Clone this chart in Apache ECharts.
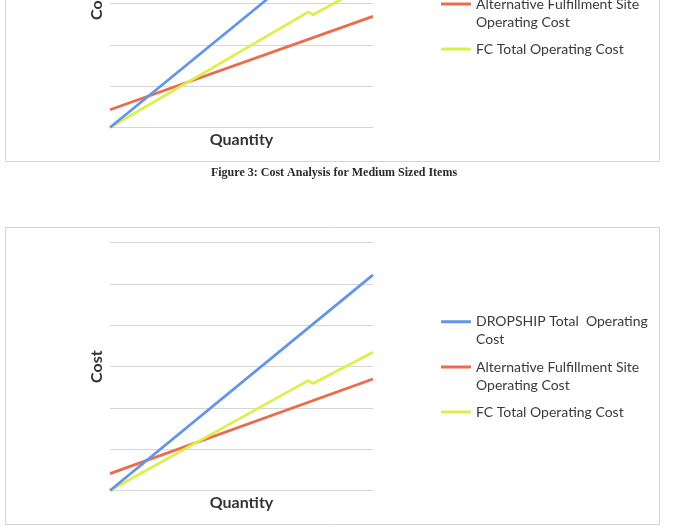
<!DOCTYPE html>
<html>
<head>
<meta charset="utf-8">
<script src="https://cdn.jsdelivr.net/npm/echarts@6/dist/echarts.min.js"></script>
<style>
html,body{margin:0;padding:0;background:#fff;overflow:hidden;width:689px;height:531px;position:relative;}
.ch{position:absolute;left:0;width:689px;height:531px;}
#top{top:-363px;}
#bottom{top:0;}
</style>
</head>
<body>
<div id="top" class="ch"></div>
<div id="bottom" class="ch"></div>
<script>
// ---- Data (y in gridline units, x in % of quantity range) ----
const seriesNames = ['DROPSHIP Total  Operating Cost', 'Alternative Fulfillment Site Operating Cost', 'FC Total Operating Cost'];
const legendLabels = ['DROPSHIP Total  Operating\nCost', 'Alternative Fulfillment Site\nOperating Cost', 'FC Total Operating Cost'];
const seriesColors = ['#6395e6', '#ec6b4d', '#dcf04c'];

// Figure 3 (top, partly cut off)
const fig3DropshipQty = [0, 100];
const fig3DropshipCost = [0, 5.2];
const fig3AltQty = [0, 100];
const fig3AltCost = [0.43, 2.69];
const fig3FcQty = [0, 75.5, 77.2, 100];
const fig3FcCost = [0, 2.80, 2.73, 3.52];

// Figure 4 (bottom)
const fig4DropshipQty = [0, 100];
const fig4DropshipCost = [0, 5.22];
const fig4AltQty = [0, 100];
const fig4AltCost = [0.41, 2.70];
const fig4FcQty = [0, 75.3, 77.2, 100];
const fig4FcCost = [0, 2.66, 2.59, 3.35];

const costTicks = [0, 6, 1]; // min, max, interval
const captions = ['Figure 3: Cost Analysis for Medium Sized Items',
                  'Figure 4: Cost Analysis for Medium Sized Items with No Fixed Cost'];

function pairs(xs, ys) { return xs.map((x, i) => [x, ys[i]]); }

const nameStyle = {fontFamily: 'Lato', fontWeight: 'bold', fontSize: 16, color: '#333'};
const legendIconY = [321.7, 367, 412];
// icon: a 3px line at the top of a 30x36 box, so it lines up with the first text line
const tallIcon = 'path://M0,0L0.001,0M0,7.5L30,7.5L30,10.5L0,10.5ZM0,36L0.001,36';

function buildOption(data, extraGraphic, transparent) {
  const series = [], legends = [];
  data.forEach((d, si) => {
    series.push({type: 'line', name: seriesNames[si], data: d, showSymbol: false, symbol: 'none',
      z: si === 0 ? 3 : 2,
      lineStyle: {color: seriesColors[si], width: 2.8}, itemStyle: {color: seriesColors[si]}});
    const twoLine = legendLabels[si].indexOf('\n') >= 0;
    legends.push({
      data: [seriesNames[si]], selectedMode: false, orient: 'vertical', padding: 0,
      left: 441, top: legendIconY[si] - 9,
      itemWidth: 30, itemHeight: twoLine ? 36 : 3, icon: twoLine ? tallIcon : 'rect', itemGap: 0,
      formatter: () => legendLabels[si],
      textStyle: {fontFamily: 'Lato', fontSize: 14, color: '#3a3a3a', lineHeight: 18}
    });
  });
  return {
    backgroundColor: transparent ? 'transparent' : '#fff',
    animation: false,
    grid: {left: 110, width: 263, top: 242.7, height: 247.8},
    xAxis: {type: 'value', min: 0, max: 100,
      name: 'Quantity', nameLocation: 'middle', nameGap: 4, nameTextStyle: nameStyle,
      axisLine: {show: false}, axisTick: {show: false}, axisLabel: {show: false}, splitLine: {show: false}},
    yAxis: {type: 'value', min: costTicks[0], max: costTicks[1], interval: costTicks[2],
      name: 'Cost', nameLocation: 'middle', nameRotate: 90, nameGap: 5, nameTextStyle: nameStyle,
      axisLine: {show: false}, axisTick: {show: false}, axisLabel: {show: false},
      splitLine: {show: true, lineStyle: {color: '#d6d6d6', width: 1}}},
    series: series, legend: legends,
    graphic: [
      {type: 'rect', shape: {x: 5.5, y: 227.5, width: 654, height: 297},
        style: {fill: 'none', stroke: '#d4d4d4', lineWidth: 1}, silent: true}
    ].concat(extraGraphic)
  };
}

const capStyle = {fontFamily: 'Liberation Serif', fontWeight: 'bold', fontSize: 12, fill: '#2a2a2a', textAlign: 'center', textVerticalAlign: 'middle'};

const topChart = echarts.init(document.getElementById('top'));
topChart.setOption(buildOption(
  [pairs(fig3DropshipQty, fig3DropshipCost), pairs(fig3AltQty, fig3AltCost), pairs(fig3FcQty, fig3FcCost)],
  [], false));

const bottomChart = echarts.init(document.getElementById('bottom'));
bottomChart.setOption(buildOption(
  [pairs(fig4DropshipQty, fig4DropshipCost), pairs(fig4AltQty, fig4AltCost), pairs(fig4FcQty, fig4FcCost)],
  [
    {type: 'text', x: 334, y: 172.7, style: Object.assign({text: captions[0]}, capStyle)},
    {type: 'text', x: 338, y: 536.8, style: Object.assign({text: captions[1]}, capStyle)}
  ], true));
</script>
</body>
</html>
